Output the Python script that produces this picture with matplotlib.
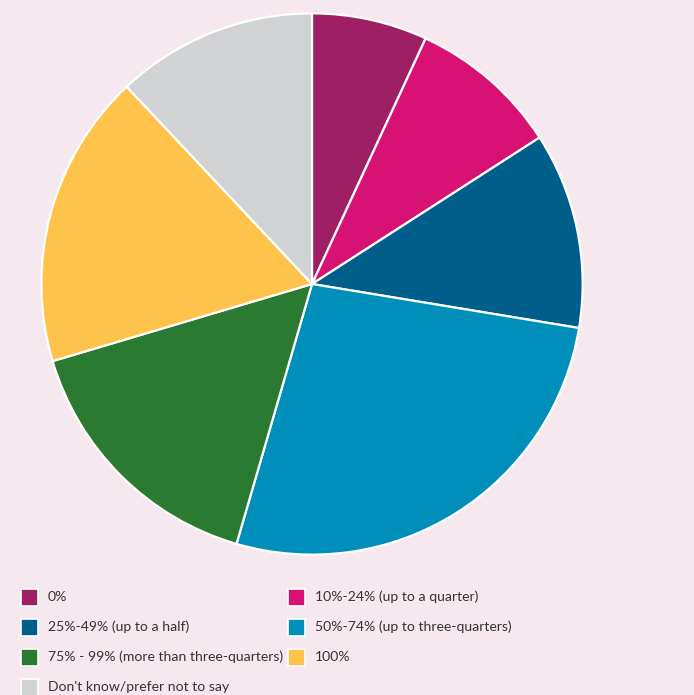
import matplotlib.pyplot as plt
from matplotlib.patches import Rectangle

labels = ['0%', '10%-24% (up to a quarter)', '25%-49% (up to a half)',
          '50%-74% (up to three-quarters)', '75% - 99% (more than three-quarters)',
          '100%', "Don't know/prefer not to say"]
values = [6.9, 9.0, 11.7, 26.9, 15.9, 17.6, 12.0]
colors = ['#9E1F63', '#D81275', '#005E8A', '#008FBA', '#2A7A31', '#FFC24A', '#D1D2D4']

bg = '#F5E8EF'
plt.rcParams['font.family'] = ['Lato', 'DejaVu Sans']

W, H = 694, 695
fig = plt.figure(figsize=(W / 100, H / 100), dpi=100, facecolor=bg)

# pie: center ~(312, 284) px, radius ~272 px
cx, cy, r = 312, 284, 272
ax = fig.add_axes([(cx - r) / W, (H - cy - r) / H, 2 * r / W, 2 * r / H])
ax.set_facecolor(bg)
ax.pie(values, colors=colors, startangle=90, counterclock=False, radius=1,
       wedgeprops=dict(edgecolor='white', linewidth=1.6))
ax.set_xlim(-1.005, 1.005)
ax.set_ylim(-1.005, 1.005)
ax.set_aspect('equal')
ax.axis('off')

# legend, two columns filled row by row
col_x = [21, 288]
row_y0, row_step = 597, 30
sq = 17
for i, (lab, c) in enumerate(zip(labels, colors)):
    row, col = divmod(i, 2)
    x = col_x[col]
    y = row_y0 + row * row_step
    fig.add_artist(Rectangle((x / W, (H - y - sq / 2) / H), sq / W, sq / H,
                             transform=fig.transFigure, facecolor=c,
                             edgecolor='white', linewidth=1.2))
    fig.text((x + 27) / W, (H - y) / H, lab, fontsize=10.1, color='#333333',
             va='center', ha='left')

fig.savefig('out.png', dpi=100, facecolor=bg)
